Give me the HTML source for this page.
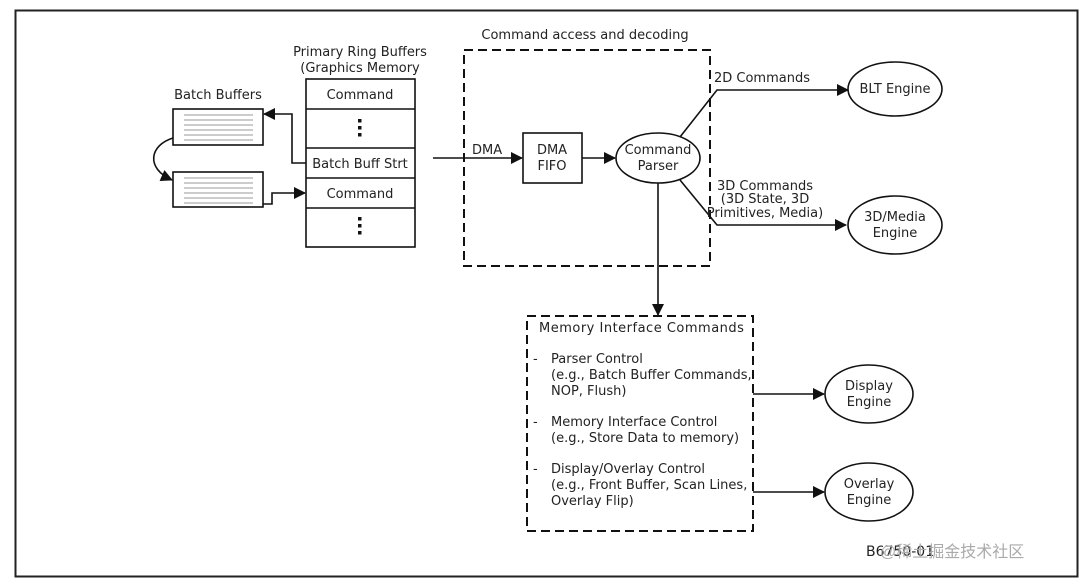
<!DOCTYPE html>
<html><head><meta charset="utf-8"><style>
html,body{margin:0;padding:0;background:#fff;}
svg{display:block;}
text{font-family:"DejaVu Sans","Liberation Sans",sans-serif;font-size:13px;fill:#222;}
</style></head><body>
<svg width="1080" height="581" viewBox="0 0 1080 581" xmlns="http://www.w3.org/2000/svg">
<defs>
<marker id="a" markerWidth="12" markerHeight="12" refX="11" refY="6" orient="auto" markerUnits="userSpaceOnUse">
<path d="M0,0 L12,6 L0,12 z" fill="#111"/></marker>
</defs>
<rect x="15.5" y="10.5" width="1062" height="566" fill="none" stroke="#222" stroke-width="2"/>
<g stroke="#111" stroke-width="1.6" fill="none">
<rect x="306" y="79" width="109" height="168" fill="#fff"/>
<line x1="306" y1="109" x2="415" y2="109"/>
<line x1="306" y1="148" x2="415" y2="148"/>
<line x1="306" y1="178" x2="415" y2="178"/>
<line x1="306" y1="208" x2="415" y2="208"/>
<rect x="173" y="109" width="90" height="36"/>
<rect x="173" y="172" width="90" height="35"/>
<polyline points="306,163 292,163 292,114 264,114" marker-end="url(#a)"/>
<polyline points="263,204 272,204 272,193 305,193" marker-end="url(#a)"/>
<path d="M173,138 C150,145 145,168 172,180" marker-end="url(#a)"/>
<line x1="433" y1="158" x2="522" y2="158" marker-end="url(#a)"/>
<rect x="523" y="133" width="59" height="50"/>
<line x1="582" y1="158" x2="615" y2="158" marker-end="url(#a)"/>
<ellipse cx="658" cy="158" rx="42" ry="25"/>
<polyline points="680,137 717,90 848,90" marker-end="url(#a)"/>
<ellipse cx="895" cy="89" rx="47" ry="27"/>
<polyline points="680,180 717,225 846,225" marker-end="url(#a)"/>
<ellipse cx="895" cy="225" rx="47" ry="29"/>
<line x1="658" y1="183" x2="658" y2="315" marker-end="url(#a)"/>
<line x1="753" y1="394" x2="824" y2="394" marker-end="url(#a)"/>
<ellipse cx="869" cy="394" rx="44" ry="29"/>
<line x1="753" y1="492" x2="824" y2="492" marker-end="url(#a)"/>
<ellipse cx="869" cy="492" rx="44" ry="29"/>
</g>
<g stroke="#111" stroke-width="2" fill="none" stroke-dasharray="9,5">
<rect x="464" y="50" width="246" height="216"/>
<rect x="527" y="316" width="226" height="215"/>
</g>
<g stroke="#999" stroke-width="1">
<line x1="184" y1="115" x2="253" y2="115"/><line x1="184" y1="120" x2="253" y2="120"/><line x1="184" y1="125" x2="253" y2="125"/><line x1="184" y1="130" x2="253" y2="130"/><line x1="184" y1="135" x2="253" y2="135"/><line x1="184" y1="140" x2="253" y2="140"/>
<line x1="184" y1="178" x2="253" y2="178"/><line x1="184" y1="183" x2="253" y2="183"/><line x1="184" y1="188" x2="253" y2="188"/><line x1="184" y1="193" x2="253" y2="193"/><line x1="184" y1="198" x2="253" y2="198"/><line x1="184" y1="203" x2="253" y2="203"/>
</g>
<g fill="#111">
<rect x="358" y="119" width="3.5" height="3.5"/><rect x="358" y="126" width="3.5" height="3.5"/><rect x="358" y="133" width="3.5" height="3.5"/>
<rect x="358" y="217" width="3.5" height="3.5"/><rect x="358" y="224" width="3.5" height="3.5"/><rect x="358" y="231" width="3.5" height="3.5"/>
</g>
<g text-anchor="middle">
<text x="360" y="56">Primary Ring Buffers</text>
<text x="360" y="72">(Graphics Memory</text>
<text x="218" y="99">Batch Buffers</text>
<text x="360" y="99">Command</text>
<text x="360" y="168">Batch Buff Strt</text>
<text x="360" y="198">Command</text>
<text x="585" y="39">Command access and decoding</text>
<text x="552" y="154">DMA</text>
<text x="552" y="170">FIFO</text>
<text x="658" y="154">Command</text>
<text x="658" y="170">Parser</text>
<text x="762" y="82">2D Commands</text>
<text x="895" y="93">BLT Engine</text>
<text x="765" y="190">3D Commands</text>
<text x="765" y="203">(3D State, 3D</text>
<text x="765" y="217">Primitives, Media)</text>
<text x="895" y="221">3D/Media</text>
<text x="895" y="237">Engine</text>
<text x="869" y="390">Display</text>
<text x="869" y="406">Engine</text>
<text x="869" y="488">Overlay</text>
<text x="869" y="504">Engine</text>
</g>
<text x="472" y="154">DMA</text>
<text x="539" y="332" style="letter-spacing:0.5px">Memory Interface Commands</text>
<text x="533" y="363">-</text><text x="551" y="363">Parser Control</text>
<text x="551" y="379">(e.g., Batch Buffer Commands,</text>
<text x="551" y="395">NOP, Flush)</text>
<text x="533" y="426">-</text><text x="551" y="426">Memory Interface Control</text>
<text x="551" y="442">(e.g., Store Data to memory)</text>
<text x="533" y="473">-</text><text x="551" y="473">Display/Overlay Control</text>
<text x="551" y="489">(e.g., Front Buffer, Scan Lines,</text>
<text x="551" y="505">Overlay Flip)</text>
<text x="866" y="556" style="font-size:14px">B6750-01</text>
<text x="880" y="557" style="font-family:'Liberation Sans','Noto Sans CJK SC',sans-serif;font-size:16px;fill:#aaa">@稀土掘金技术社区</text>
</svg>
</body></html>
